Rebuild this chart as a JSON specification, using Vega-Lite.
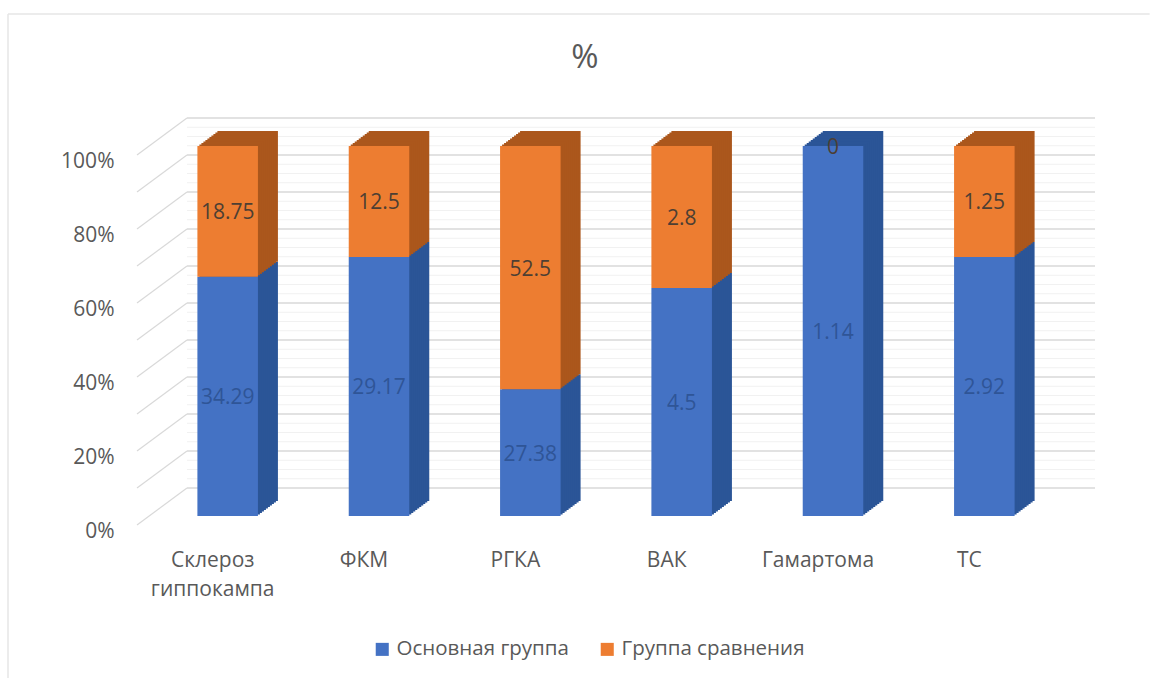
{"$schema":"https://vega.github.io/schema/vega-lite/v6.json","width":908,"height":370,"autosize":{"type":"none"},"padding":{"left":137,"top":155,"right":105,"bottom":153},"background":"white","config":{"font":"Open Sans","view":{"stroke":null}},"title":{"text":"%","fontSize":33,"fontWeight":"normal","color":"#595959","font":"Open Sans","anchor":"middle","dx":-6,"offset":-62},"datasets":{"one":[{"n":1}],"bars":[{"category":"Склероз гиппокампа","group":"Основная группа","value":34.29},{"category":"Склероз гиппокампа","group":"Группа сравнения","value":18.75},{"category":"ФКМ","group":"Основная группа","value":29.17},{"category":"ФКМ","group":"Группа сравнения","value":12.5},{"category":"РГКА","group":"Основная группа","value":27.38},{"category":"РГКА","group":"Группа сравнения","value":52.5},{"category":"ВАК","group":"Основная группа","value":4.5},{"category":"ВАК","group":"Группа сравнения","value":2.8},{"category":"Гамартома","group":"Основная группа","value":1.14},{"category":"Гамартома","group":"Группа сравнения","value":0},{"category":"ТС","group":"Основная группа","value":2.92},{"category":"ТС","group":"Группа сравнения","value":1.25}],"major":[{"tick":0},{"tick":0.1},{"tick":0.2},{"tick":0.3},{"tick":0.4},{"tick":0.5},{"tick":0.6},{"tick":0.7},{"tick":0.8},{"tick":0.9},{"tick":1}],"minor":[{"tick":0.025},{"tick":0.05},{"tick":0.075},{"tick":0.125},{"tick":0.15},{"tick":0.175},{"tick":0.225},{"tick":0.25},{"tick":0.275},{"tick":0.325},{"tick":0.35},{"tick":0.375},{"tick":0.425},{"tick":0.45},{"tick":0.475},{"tick":0.525},{"tick":0.55},{"tick":0.575},{"tick":0.625},{"tick":0.65},{"tick":0.675},{"tick":0.725},{"tick":0.75},{"tick":0.775},{"tick":0.825},{"tick":0.85},{"tick":0.875},{"tick":0.925},{"tick":0.95},{"tick":0.975}]},"layer":[
{"data":{"name":"minor"},"mark":{"type":"rule","color":"#f1f1f1","strokeWidth":1,"xOffset":50,"x2Offset":125.7,"yOffset":-37},"encoding":{"x":{"datum":"Склероз гиппокампа","type":"nominal","bandPosition":0,"scale":{"domain":["Склероз гиппокампа","ФКМ","РГКА","ВАК","Гамартома","ТС"],"paddingInner":0,"paddingOuter":0}},"x2":{"datum":"ТС"},"y":{"field":"tick","type":"quantitative","scale":{"domain":[0,1]},"axis":{"format":".0%","values":[0,0.1,0.2,0.3,0.4,0.5,0.6,0.7,0.8,0.9,1],"labelOverlap":false,"title":null,"domain":false,"ticks":false,"grid":false,"labelFontSize":21,"labelColor":"#595959","labelPadding":23,"labelOffset":6}}}},
{"data":{"name":"major"},"mark":{"type":"rule","color":"#d9d9d9","strokeWidth":1.5,"xOffset":50,"x2Offset":125.7,"yOffset":-37},"encoding":{"x":{"datum":"Склероз гиппокампа","type":"nominal","bandPosition":0},"x2":{"datum":"ТС"},"y":{"field":"tick","type":"quantitative"}}},
{"data":{"name":"major"},"mark":{"type":"rule","color":"#d9d9d9","strokeWidth":1.2,"x2Offset":-25.7,"y2Offset":-37},"encoding":{"x":{"datum":"Склероз гиппокампа","type":"nominal","bandPosition":0},"x2":{"datum":"Склероз гиппокампа"},"y":{"field":"tick","type":"quantitative"},"y2":{"field":"tick"}}},
{"data":{"name":"bars"},"layer":[
{"mark":{"type":"bar","width":{"band":0.4},"xOffset":35,"x2Offset":35,"yOffset":-24,"y2Offset":-24},"encoding":{"color":{"condition":{"test":"datum.group === 'Основная группа'","value":"#2b5597"},"value":"#ab571c"},"detail":{"field":"group"}}},
{"mark":{"type":"bar","width":{"band":0.4},"xOffset":33,"x2Offset":33,"yOffset":-22.5,"y2Offset":-22.5},"encoding":{"color":{"condition":{"test":"datum.group === 'Основная группа'","value":"#2b5597"},"value":"#ab571c"},"detail":{"field":"group"}}},
{"mark":{"type":"bar","width":{"band":0.4},"xOffset":31,"x2Offset":31,"yOffset":-21,"y2Offset":-21},"encoding":{"color":{"condition":{"test":"datum.group === 'Основная группа'","value":"#2b5597"},"value":"#ab571c"},"detail":{"field":"group"}}},
{"mark":{"type":"bar","width":{"band":0.4},"xOffset":29,"x2Offset":29,"yOffset":-19.5,"y2Offset":-19.5},"encoding":{"color":{"condition":{"test":"datum.group === 'Основная группа'","value":"#2b5597"},"value":"#ab571c"},"detail":{"field":"group"}}},
{"mark":{"type":"bar","width":{"band":0.4},"xOffset":27,"x2Offset":27,"yOffset":-18,"y2Offset":-18},"encoding":{"color":{"condition":{"test":"datum.group === 'Основная группа'","value":"#2b5597"},"value":"#ab571c"},"detail":{"field":"group"}}},
{"mark":{"type":"bar","width":{"band":0.4},"xOffset":25,"x2Offset":25,"yOffset":-16.5,"y2Offset":-16.5},"encoding":{"color":{"condition":{"test":"datum.group === 'Основная группа'","value":"#2b5597"},"value":"#ab571c"},"detail":{"field":"group"}}},
{"mark":{"type":"bar","width":{"band":0.4},"xOffset":23,"x2Offset":23,"yOffset":-15,"y2Offset":-15},"encoding":{"color":{"condition":{"test":"datum.group === 'Основная группа'","value":"#2b5597"},"value":"#ab571c"},"detail":{"field":"group"}}},
{"mark":{"type":"bar","width":{"band":0.4},"xOffset":21,"x2Offset":21,"yOffset":-13.5,"y2Offset":-13.5},"encoding":{"color":{"condition":{"test":"datum.group === 'Основная группа'","value":"#2b5597"},"value":"#ab571c"},"detail":{"field":"group"}}},
{"mark":{"type":"bar","width":{"band":0.4},"xOffset":19,"x2Offset":19,"yOffset":-12,"y2Offset":-12},"encoding":{"color":{"condition":{"test":"datum.group === 'Основная группа'","value":"#2b5597"},"value":"#ab571c"},"detail":{"field":"group"}}},
{"mark":{"type":"bar","width":{"band":0.4},"xOffset":17,"x2Offset":17,"yOffset":-10.5,"y2Offset":-10.5},"encoding":{"color":{"condition":{"test":"datum.group === 'Основная группа'","value":"#2b5597"},"value":"#ab571c"},"detail":{"field":"group"}}},
{"mark":{"type":"bar","width":{"band":0.4},"xOffset":15,"x2Offset":15,"yOffset":-9,"y2Offset":-9},"encoding":{"color":{"field":"group","type":"nominal","scale":{"domain":["Основная группа","Группа сравнения"],"range":["#4472c4","#ed7d31"]},"legend":{"title":null,"orient":"none","direction":"horizontal","legendX":235,"legendY":484,"symbolType":"square","symbolSize":170,"symbolOpacity":1,"labelFontSize":20.5,"labelColor":"#595959","labelLimit":300,"columnPadding":28,"labelOffset":4}}}},
{"mark":{"type":"text","fontSize":21,"xOffset":15,"yOffset":-7},"encoding":{"text":{"field":"value","type":"quantitative"},"detail":{"field":"group"},"order":{"field":"group","sort":"descending"},"color":{"condition":{"test":"datum.group === 'Основная группа'","value":"#2f5597"},"value":"#4d3f33"},"y":{"field":"value","type":"quantitative","stack":"normalize","bandPosition":0.5}}}
],"encoding":{"x":{"field":"category","type":"nominal","sort":null,"axis":{"title":null,"domain":false,"ticks":false,"labelAngle":0,"labelAlign":"center","labelFontSize":21,"labelColor":"#595959","labelPadding":35,"labelLimit":200,"labelLineHeight":29,"labelExpr":"datum.label === 'Склероз гиппокампа' ? ['Склероз','гиппокампа'] : datum.label"}},"y":{"field":"value","type":"quantitative","stack":"normalize"}}},
{"data":{"name":"one"},"mark":{"type":"rule","color":"#e6e6e6","strokeWidth":1.5,"xOffset":-129,"x2Offset":180.3,"yOffset":-141},"encoding":{"x":{"datum":"Склероз гиппокампа","type":"nominal","bandPosition":0},"x2":{"datum":"ТС"},"y":{"datum":1}}},
{"data":{"name":"one"},"mark":{"type":"rule","color":"#e6e6e6","strokeWidth":1.5,"xOffset":-129,"yOffset":-141,"y2Offset":153},"encoding":{"x":{"datum":"Склероз гиппокампа","type":"nominal","bandPosition":0},"y":{"datum":1},"y2":{"datum":0}}}
]}
